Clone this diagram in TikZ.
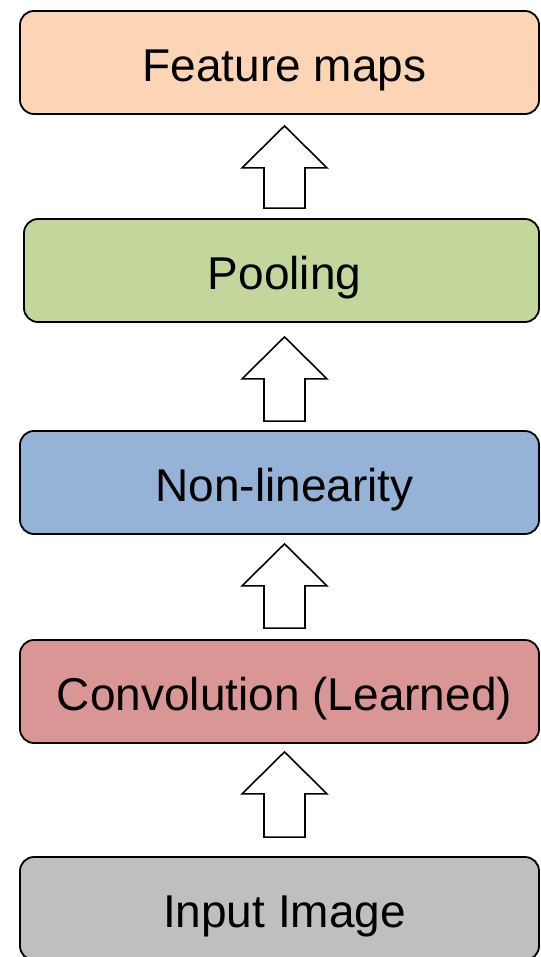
\documentclass[tikz,border=0pt]{standalone}
\usepackage{fontspec}
\setmainfont{Liberation Sans}
\usetikzlibrary{calc}
\definecolor{peach}{HTML}{FBD5B5}
\definecolor{sage}{HTML}{C3D69B}
\definecolor{steel}{HTML}{95B3D7}
\definecolor{rose}{HTML}{D99694}
\definecolor{stone}{HTML}{BFBFBF}
\tikzset{
  stage/.style={draw=black, line width=1.8pt, rounded corners=14pt,
    minimum height=103pt, inner sep=0pt},
  lbl/.style={font=\fontsize{46}{50}\selectfont, inner sep=0pt, anchor=base},
  blk/.style={draw=black, fill=white, line width=1.6pt, line join=miter}
}
% hollow block arrow between two stages: #3 gap below the upper one, #4 gap above the lower one
\newcommand\blockarrow[4]{%
  \draw[blk] let \p1=([yshift=-#3pt]#1.south -| axis),
                 \p2=([yshift=#4pt]#2.north -| axis) in
    (\p1) -- (\x1+42.5pt,\y1-42pt) -- (\x1+20.5pt,\y1-42pt)
          -- (\x1+20.5pt,\y2) -- (\x1-20.5pt,\y2)
          -- (\x1-20.5pt,\y1-42pt) -- (\x1-42.5pt,\y1-42pt) -- cycle;}
\begin{document}
\begin{tikzpicture}[x=1pt, y=-1pt]
  \useasboundingbox (0,0) rectangle (540,957);
  \clip (0,0) rectangle (540,957);
  \coordinate (axis) at (284.5,0);

  \node[stage, fill=peach, minimum width=519pt] (fm)     at (279.5,62.5) {};
  \node[stage, fill=sage,  minimum width=515pt] (pool)   at (281.5,270.5) {};
  \node[stage, fill=steel, minimum width=519pt] (nonlin) at (279.5,482.5) {};
  \node[stage, fill=rose,  minimum width=519pt] (conv)   at (279.5,691.5) {};
  \node[stage, fill=stone, minimum width=519pt] (input)  at (279.5,908.5) {};

  \node[lbl] (fmtext)     at ([yshift=-19pt]fm.center -| axis)     {Feature maps};
  \node[lbl] (pooltext)   at ([yshift=-19pt]pool.center -| axis)   {Pooling};
  \node[lbl] (nonlintext) at ([yshift=-19pt]nonlin.center -| axis) {Non-linearity};
  \node[lbl] (convtext)   at ([yshift=-19pt]conv.center -| axis)   {Convolution (Learned)};
  \node[lbl] (inputtext)  at ([yshift=-19pt]input.center -| axis)  {Input Image};

  \blockarrow{fm}{pool}{11}{10}
  \blockarrow{pool}{nonlin}{14}{9}
  \blockarrow{nonlin}{conv}{9}{11}
  \blockarrow{conv}{input}{8}{19}
\end{tikzpicture}
\end{document}
